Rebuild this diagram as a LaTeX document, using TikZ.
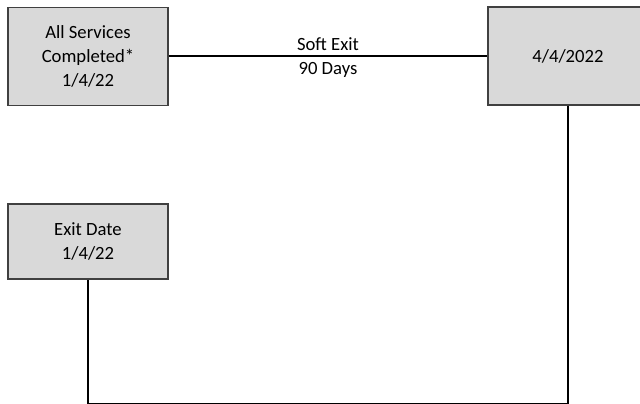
\documentclass[tikz,border=0pt]{standalone}
\usepackage{fontspec}
\setmainfont{Carlito}
\begin{document}
\begin{tikzpicture}[x=0.75pt,y=-0.75pt,
    datebox/.style={draw=black!75,line width=1pt,fill=black!15,align=center,
        minimum width=120pt,inner sep=0pt,font=\fontsize{14}{18.2}\selectfont},
    link/.style={line width=0.8pt}]
    \useasboundingbox(0,0) rectangle (640,404);
    \node[datebox,minimum height=73.5pt](done) at (88,56.5) {All Services\\Completed*\\1/4/22};
    \node[datebox,minimum height=73.5pt](soft) at (568,56) {4/4/2022};
    \node[datebox,minimum height=56.25pt](exit) at (88,241.5) {Exit Date\\1/4/22};
\draw[link](done.east|-soft)--(soft)node[midway,above,inner sep=3.5pt,font=\fontsize{14}{16}\selectfont]{Soft Exit}
    node[midway,below,inner sep=4.5pt,font=\fontsize{14}{16}\selectfont]{90 Days};
\draw[link](soft.south)--++(0,297.5)-|(exit.south);

\end{tikzpicture}
\end{document}
